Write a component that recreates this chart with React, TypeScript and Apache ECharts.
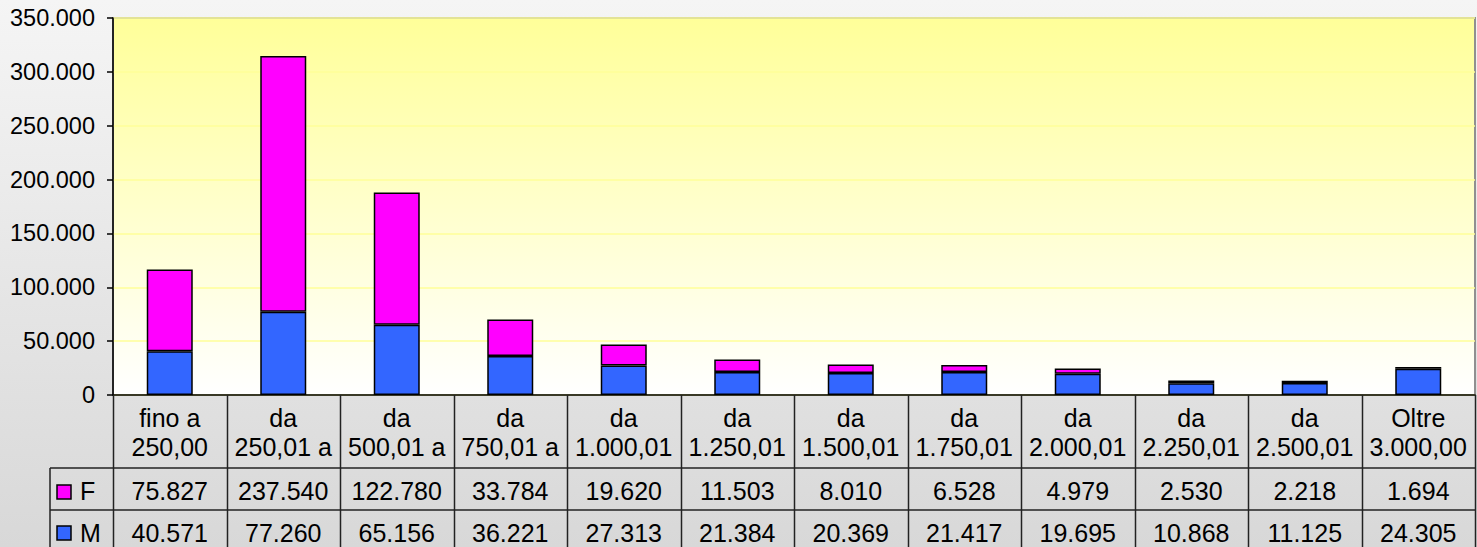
import React, { useEffect, useRef } from "react";
import * as echarts from "echarts";

const catLine1 = ["fino a", "da", "da", "da", "da", "da", "da", "da", "da", "da", "da", "Oltre"];
const catLine2 = ["250,00", "250,01 a", "500,01 a", "750,01 a", "1.000,01", "1.250,01", "1.500,01", "1.750,01", "2.000,01", "2.250,01", "2.500,01", "3.000,00"];
const categories = catLine1.map((a, i) => a + "\n" + catLine2[i]);
const seriesNames = ["F", "M"];
const valuesF = [75827, 237540, 122780, 33784, 19620, 11503, 8010, 6528, 4979, 2530, 2218, 1694];
const valuesM = [40571, 77260, 65156, 36221, 27313, 21384, 20369, 21417, 19695, 10868, 11125, 24305];
const yMin = 0;
const yMax = 350000;
const yInterval = 50000;

const colorF = "#ff00ff";
const colorM = "#3366ff";
const FONT = "'Liberation Sans', Arial, sans-serif";

const fmt = (n: number) => String(n).replace(/\B(?=(\d{3})+(?!\d))/g, ".");

export default function App() {
  const ref = useRef<HTMLDivElement>(null);
  useEffect(() => {
    if (!ref.current) return;
    const chart = echarts.init(ref.current, undefined, { renderer: "svg" });
    const W = 1477;
    const H = 547;
    const gridLeft = 113;
    const gridRight = 2;
    const gridTop = 18;
    const gridBottom = 152;
    const axisY = H - gridBottom;
    chart.setOption({
      animation: false,
      backgroundColor: "transparent",
      grid: {
        left: gridLeft,
        right: gridRight,
        top: gridTop,
        bottom: gridBottom,
        show: true,
        borderColor: "#909090",
        borderWidth: 2,
        backgroundColor: {
          type: "linear",
          x: 0,
          y: 0,
          x2: 0,
          y2: 1,
          colorStops: [
            { offset: 0, color: "#ffff99" },
            { offset: 1, color: "#ffffff" },
          ],
        },
        containLabel: false,
        outerBoundsMode: "none",
      },
      xAxis: {
        type: "category",
        data: categories,
        axisLine: { show: true, lineStyle: { color: "#000", width: 1.5 } },
        axisTick: { show: false },
        axisLabel: {
          interval: 0,
          margin: 8,
          fontSize: 25,
          lineHeight: 29,
          fontFamily: FONT,
          color: "#000",
        },
      },
      yAxis: {
        type: "value",
        min: yMin,
        max: yMax,
        interval: yInterval,
        axisLine: { show: true, lineStyle: { color: "#000", width: 1.5 } },
        axisTick: { show: true, length: 6, lineStyle: { color: "#000", width: 1.5 } },
        axisLabel: {
          margin: 18,
          fontSize: 23.5,
          fontFamily: FONT,
          color: "#000",
          formatter: (v: number) => fmt(v),
        },
        splitLine: { show: true, lineStyle: { color: "#ffff99", width: 1.5 } },
      },
      series: [
        {
          name: seriesNames[1],
          type: "bar",
          stack: "tot",
          data: valuesM,
          barWidth: 46,
          itemStyle: { color: colorM, borderColor: "#000", borderWidth: 1.5 },
        },
        {
          name: seriesNames[0],
          type: "bar",
          stack: "tot",
          data: valuesF,
          barWidth: 46,
          itemStyle: { color: colorF, borderColor: "#000", borderWidth: 1.5 },
        },
      ],
    });

    // Data table below the axis
    const gridW = W - gridLeft - gridRight;
    const colW = gridW / categories.length;
    const rowTop = 468;
    const rowMid = 510;
    const tableLeft = 50;
    const lineStyle = { stroke: "#222", lineWidth: 1.5 };
    const elements: any[] = [];
    for (let i = 0; i <= categories.length; i++) {
      const x = Math.round(gridLeft + i * colW) + 0.5;
      elements.push({ type: "line", shape: { x1: x, y1: axisY, x2: x, y2: H }, style: lineStyle, z: 10 });
    }
    elements.push({ type: "line", shape: { x1: tableLeft, y1: rowTop, x2: tableLeft, y2: H }, style: lineStyle, z: 10 });
    elements.push({ type: "line", shape: { x1: tableLeft, y1: rowTop, x2: W - gridRight, y2: rowTop }, style: lineStyle, z: 10 });
    elements.push({ type: "line", shape: { x1: tableLeft, y1: rowMid, x2: W - gridRight, y2: rowMid }, style: lineStyle, z: 10 });

    const rows = [
      { name: seriesNames[0], vals: valuesF, color: colorF, cy: 491, sq: 485 },
      { name: seriesNames[1], vals: valuesM, color: colorM, cy: 533, sq: 526 },
    ];
    rows.forEach((r) => {
      elements.push({
        type: "rect",
        shape: { x: 57, y: r.sq, width: 14, height: 14 },
        style: { fill: r.color, stroke: "#000", lineWidth: 1.5 },
        z: 10,
      });
      elements.push({
        type: "text",
        x: 80,
        y: r.cy,
        style: { text: r.name, fontSize: 25, fontFamily: FONT, fill: "#000", align: "left", verticalAlign: "middle" },
        z: 10,
      });
      r.vals.forEach((v, i) => {
        const px = chart.convertToPixel({ xAxisIndex: 0 }, i) as number;
        elements.push({
          type: "text",
          x: px,
          y: r.cy,
          style: { text: fmt(v), fontSize: 25, fontFamily: FONT, fill: "#000", align: "center", verticalAlign: "middle" },
          z: 10,
        });
      });
    });
    chart.setOption({ graphic: elements });

    return () => chart.dispose();
  }, []);
  return (
    <div
      style={{
        position: "fixed",
        left: 0,
        top: 0,
        width: 1477,
        height: 547,
        background: "linear-gradient(to bottom, #f5f5f5 0%, #d8d8d8 100%)",
      }}
    >
      <div ref={ref} style={{ width: 1477, height: 547 }} />
    </div>
  );
}
